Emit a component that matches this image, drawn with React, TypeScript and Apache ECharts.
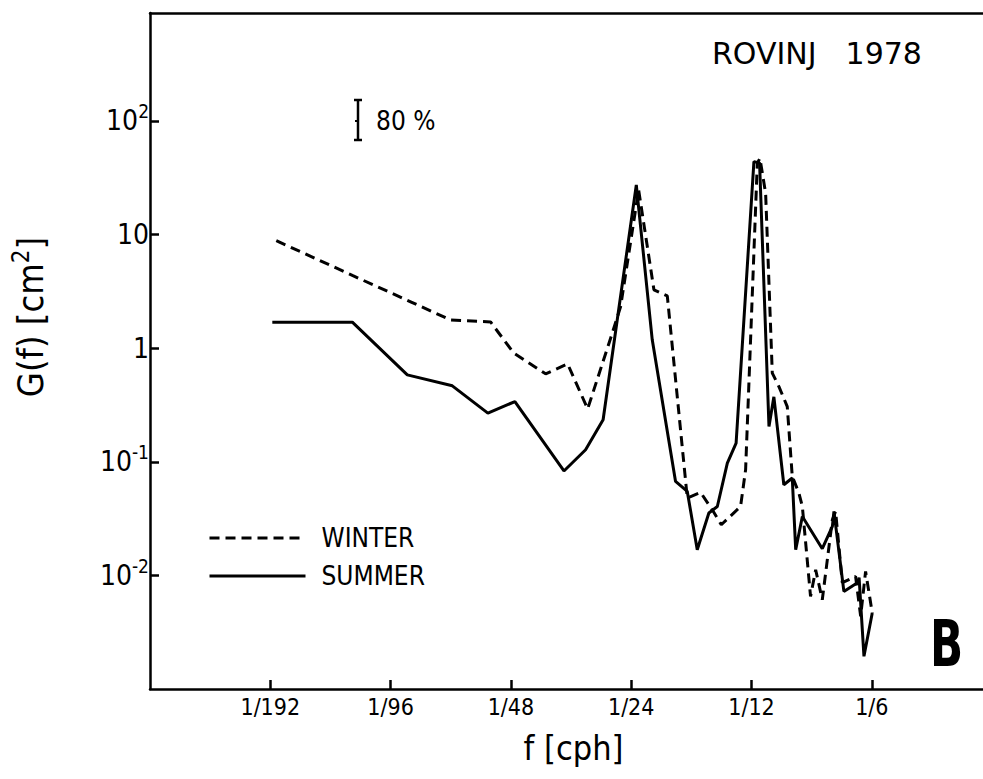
import React, { useEffect, useRef } from 'react';
import * as echarts from 'echarts';

// Spectral density G(f) [cm^2] versus frequency f [cph], Rovinj 1978
const winterFreq = [
  0.005391, 0.008355, 0.01169, 0.01472, 0.01853, 0.02116, 0.02545, 0.02888, 0.03242, 0.03737,
  0.0392, 0.04349, 0.0475, 0.0513, 0.05756, 0.06216, 0.06648, 0.07002, 0.07825, 0.08055,
  0.08617, 0.08748, 0.0904, 0.09394, 0.0976, 0.1024, 0.1054, 0.1095, 0.1117, 0.1171,
  0.1206, 0.1253, 0.1328, 0.1353, 0.1406, 0.1518, 0.1563, 0.1608, 0.1671,
];
const winterG = [
  8.84, 4.37, 2.56, 1.77, 1.7, 0.909, 0.594, 0.728, 0.292, 1.36,
  2.32, 24.7, 3.26, 2.88, 0.048, 0.0537, 0.0378, 0.0279, 0.0404, 0.0851,
  42.4, 46.9, 23.1, 0.603, 0.459, 0.306, 0.0743, 0.0531, 0.0404, 0.00653,
  0.0112, 0.00611, 0.0309, 0.0366, 0.00863, 0.0098, 0.00436, 0.01084, 0.00467,
];
const summerFreq = [
  0.005269, 0.008355, 0.01147, 0.014865, 0.018245, 0.02132, 0.02828, 0.03204, 0.03544, 0.04291,
  0.04704, 0.0538, 0.05756, 0.06096, 0.06518, 0.06844, 0.0725, 0.07626, 0.0845, 0.0873,
  0.09216, 0.0948, 0.1004, 0.1054, 0.1075, 0.1117, 0.1253, 0.1328, 0.134, 0.1419,
  0.1534, 0.1549, 0.1593, 0.1671,
];
const summerG = [
  1.693, 1.693, 0.582, 0.466, 0.268, 0.339, 0.083, 0.1276, 0.234, 27.3,
  1.183, 0.0671, 0.0548, 0.01683, 0.0354, 0.0404, 0.0974, 0.146, 43.8, 42.7,
  0.2044, 0.373, 0.0628, 0.0719, 0.01683, 0.033, 0.01718, 0.027, 0.0366, 0.00723,
  0.00863, 0.00955, 0.00194, 0.00467,
];

// x axis counts frequency in cycles per 384 h so that octave ticks fall on powers of 2
const FREQ_UNIT = 384;
const X_MIN = 1;
const X_MAX = 121.46;
const xTickValues = [2, 4, 8, 16, 32, 64];
const xTickLabels = ['1/192', '1/96', '1/48', '1/24', '1/12', '1/6'];
const Y_MIN = 0.001;
const Y_MAX = 891;
const yTickValues = [0.01, 0.1, 1, 10, 100];
const yTickLabels: Record<number, string> = {
  2: '{b|10}{s|2}',
  1: '{b|10}',
  0: '{b|1}',
  [-1]: '{b|10}{s|-1}',
  [-2]: '{b|10}{s|-2}',
};
const seriesNames = ['WINTER', 'SUMMER'];

const FONT = "'DejaVu Sans Condensed', 'DejaVu Sans', sans-serif";
const FONT_WIDE = "'DejaVu Sans', sans-serif";
const INK = '#000';

export default function App() {
  const ref = useRef<HTMLDivElement>(null);

  useEffect(() => {
    if (!ref.current) return;
    const chart = echarts.init(ref.current, undefined, { renderer: 'svg' });
    const toPairs = (fs: number[], gs: number[]) => fs.map((f, i) => [f * FREQ_UNIT, gs[i]]);
    const axisLine = { lineStyle: { color: INK, width: 2.5 } };

    const option = {
      animation: false,
      backgroundColor: '#fff',
      title: {
        text: '{a|ROVINJ}{c|1978}',
        left: 712,
        top: 38,
        padding: 0,
        textStyle: {
          fontWeight: 'normal',
          rich: {
            a: { fontFamily: FONT_WIDE, fontSize: 30, fontWeight: 'normal', color: INK },
            c: { fontFamily: FONT_WIDE, fontSize: 30, fontWeight: 'normal', color: INK, padding: [0, 0, 0, 29] },
          },
        },
      },
      legend: {
        orient: 'vertical',
        left: 208,
        top: 525,
        padding: 0,
        itemWidth: 96,
        itemHeight: 16,
        itemGap: 12,
        selectedMode: false,
        data: seriesNames,
        itemStyle: { color: 'transparent', borderColor: 'transparent', borderWidth: 0 },
        lineStyle: { width: 3 },
        textStyle: { fontFamily: FONT, fontSize: 26, color: INK, padding: [0, 0, 0, 11] },
      },
      grid: {
        left: 150,
        top: 13,
        right: 0,
        height: 676,
      },
      xAxis: [
        {
          type: 'log',
          logBase: 2,
          min: X_MIN,
          max: X_MAX,
          name: 'f [cph]',
          nameLocation: 'middle',
          nameGap: 42,
          nameTextStyle: { fontFamily: FONT, fontSize: 34, color: INK, padding: [0, 0, 0, 14] },
          axisLine,
          axisTick: {
            inside: true,
            length: 9,
            customValues: xTickValues,
            lineStyle: { color: INK, width: 2.5 },
          },
          axisLabel: {
            margin: 6,
            fontFamily: FONT,
            fontSize: 23,
            color: INK,
            customValues: xTickValues,
            formatter: (v: number) => {
              const n = Math.round(Math.log2(v));
              return n >= 1 && n <= 6 ? xTickLabels[n - 1] : '';
            },
          },
          splitLine: { show: false },
        },
        {
          // top frame line
          type: 'log',
          logBase: 2,
          min: X_MIN,
          max: X_MAX,
          position: 'top',
          axisLine,
          axisTick: { show: false },
          axisLabel: { show: false },
          splitLine: { show: false },
        },
      ],
      yAxis: {
        type: 'log',
        logBase: 10,
        min: Y_MIN,
        max: Y_MAX,
        axisLine,
        axisTick: {
          inside: true,
          length: 9,
          customValues: yTickValues,
          lineStyle: { color: INK, width: 2.5 },
        },
        axisLabel: {
          margin: 1,
          color: INK,
          customValues: yTickValues,
          formatter: (v: number) => {
            const n = Math.round(Math.log10(v));
            return yTickLabels[n] ?? '';
          },
          rich: {
            b: { fontFamily: FONT, fontSize: 28, color: INK, lineHeight: 38 },
            s: { fontFamily: FONT, fontSize: 19, color: INK, lineHeight: 14, verticalAlign: 'top' },
          },
        },
        splitLine: { show: false },
      },
      series: [
        {
          name: seriesNames[0],
          type: 'line',
          symbol: 'none',
          clip: true,
          lineStyle: { color: INK, width: 3, type: [10, 6] },
          itemStyle: { color: INK },
          data: toPairs(winterFreq, winterG),
        },
        {
          name: seriesNames[1],
          type: 'line',
          symbol: 'none',
          clip: true,
          lineStyle: { color: INK, width: 3, type: 'solid' },
          itemStyle: { color: INK },
          data: toPairs(summerFreq, summerG),
        },
      ],
      graphic: [
        { type: 'line', shape: { x1: 358, y1: 100, x2: 358, y2: 140 }, style: { stroke: INK, lineWidth: 2.5 } },
        { type: 'line', shape: { x1: 354, y1: 100, x2: 362, y2: 100 }, style: { stroke: INK, lineWidth: 2.5 } },
        { type: 'line', shape: { x1: 354, y1: 140, x2: 362, y2: 140 }, style: { stroke: INK, lineWidth: 2.5 } },
        { type: 'line', shape: { x1: 355, y1: 121, x2: 358, y2: 121 }, style: { stroke: INK, lineWidth: 2 } },
        {
          type: 'text',
          x: 376,
          y: 121,
          style: { text: '80 %', fontFamily: FONT, fontSize: 26, fill: INK, verticalAlign: 'middle' },
        },
        {
          type: 'text',
          x: 30,
          y: 317,
          rotation: Math.PI / 2,
          style: {
            text: '{b|G(f) [cm}{s|2}{b|]}',
            align: 'center',
            verticalAlign: 'middle',
            fill: INK,
            rich: {
              b: { fontFamily: FONT, fontSize: 36, fill: INK, lineHeight: 42 },
              s: { fontFamily: FONT, fontSize: 24, fill: INK, lineHeight: 18, verticalAlign: 'top' },
            },
          },
        },
        {
          type: 'text',
          x: 930,
          y: 644,
          scaleX: 0.68,
          style: {
            text: 'B',
            fontFamily: FONT_WIDE,
            fontWeight: 'bold',
            fontSize: 64,
            fill: INK,
            verticalAlign: 'middle',
          },
        },
      ],
    };

    chart.setOption(option as any);
    return () => chart.dispose();
  }, []);

  return (
    <div
      ref={ref}
      style={{ position: 'fixed', left: 0, top: 0, width: 983, height: 779, background: '#fff' }}
    />
  );
}
